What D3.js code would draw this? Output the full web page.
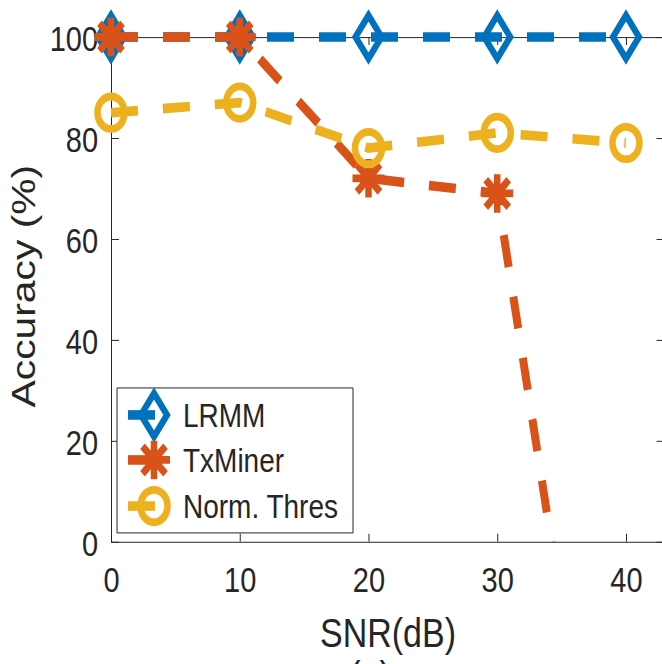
<!DOCTYPE html>
<html>
<head>
<meta charset="utf-8">
<script src="https://cdn.jsdelivr.net/npm/d3@7"></script>
<style>
  html, body { margin: 0; padding: 0; background: #fff; }
  svg { display: block; }
  text { font-family: "Liberation Sans", Arial, Helvetica, sans-serif; fill: #262626; }
</style>
</head>
<body>
<svg id="chart" width="662" height="664"></svg>
<script>
// SNR sweep and accuracy of each detector
const snr = [0, 10, 20, 30, 40];
const lrmm = [100, 100, 100, 100, 100];
const txMiner = [100, 100, 72, 69, -95];
const normThres = [85, 87, 78, 81, 79];

const xTicks = [0, 10, 20, 30, 40];
const yTicks = [0, 20, 40, 60, 80, 100];

const seriesNames = ["LRMM", "TxMiner", "Norm. Thres"];
const seriesColors = ["#0072BD", "#D95319", "#EDB120"];
const seriesMarkers = ["diamond", "asterisk", "circle"];

const xLabel = "SNR(dB)";
const yLabel = "Accuracy (%)";
const caption = "(a)";

const series = [lrmm, txMiner, normThres].map((vals, i) => ({
  name: seriesNames[i], color: seriesColors[i], marker: seriesMarkers[i], values: vals
}));

const W = 662, H = 664;
const SY = 1.2;               // the figure is drawn with a taller-than-wide aspect
const AX = "#262626";

const svg = d3.select("#chart");
const root = svg.append("g").attr("transform", `scale(1,${SY})`);

const x = d3.scaleLinear().domain([0, 43]).range([111, 664.6]);
const y = d3.scaleLinear().domain([0, 100]).range([451.4, 30.83]);

const tickV = 8 / SY;  // inward tick length on horizontal axes
const tickH = 8;       // inward tick length on vertical axes

function styleAxis(g) {
  g.attr("font-family", null).attr("font-size", null).attr("color", AX);
  g.selectAll("path, line")
    .attr("stroke", AX)
    .attr("stroke-width", 1)
    .attr("vector-effect", "non-scaling-stroke");
}

// bottom axis with labels
root.append("g")
  .attr("transform", `translate(0,${y(0)})`)
  .call(d3.axisBottom(x).tickValues(xTicks).tickSize(-tickV).tickSizeOuter(0))
  .call(styleAxis)
  .call(g => g.selectAll("text")
    .attr("y", 41.9).attr("dy", null)
    .style("font-size", "29px"));

// top edge of the box
root.append("g")
  .attr("transform", `translate(0,${y(100)})`)
  .call(d3.axisTop(x).tickValues(xTicks).tickSize(-tickV).tickSizeOuter(0).tickFormat(""))
  .call(styleAxis);

// left axis with labels
root.append("g")
  .attr("transform", `translate(${x(0)},0)`)
  .call(d3.axisLeft(y).tickValues(yTicks).tickSize(-tickH).tickSizeOuter(0).tickPadding(13))
  .call(styleAxis)
  .call(g => g.selectAll("text")
    .attr("dy", "0.39em")
    .style("font-size", "29px"));

// right edge of the box
root.append("g")
  .attr("transform", `translate(${x(43)},0)`)
  .call(d3.axisRight(y).tickValues(yTicks).tickSize(-tickH).tickSizeOuter(0).tickFormat(""))
  .call(styleAxis);

// clip lines to the plotting area (bottom edge at y = 0)
svg.append("defs").append("clipPath").attr("id", "plotClip")
  .append("rect")
  .attr("x", 0).attr("y", -60)
  .attr("width", W).attr("height", y(0) + 60);

const line = d3.line().x((d, i) => x(snr[i])).y(d => y(d));

function drawMarker(sel, type, color) {
  if (type === "diamond") {
    sel.append("path")
      .attr("d", "M0,-18L13,0L0,18L-13,0Z")
      .attr("fill", "none").attr("stroke", color)
      .attr("stroke-width", 6).attr("stroke-linejoin", "miter").attr("stroke-miterlimit", 10);
  } else if (type === "asterisk") {
    sel.append("path")
      .attr("d", "M0,-16V16M-16,0H16M-11.5,-11.5L11.5,11.5M-11.5,11.5L11.5,-11.5")
      .attr("fill", "none").attr("stroke", color)
      .attr("stroke-width", 6.5);
  } else {
    sel.append("circle")
      .attr("r", 13.5)
      .attr("fill", "none").attr("stroke", color)
      .attr("stroke-width", 6.5);
  }
}

const dash = "27 25";

series.forEach(s => {
  const g = root.append("g").attr("class", "series");
  g.append("path")
    .attr("clip-path", "url(#plotClip)")
    .attr("d", line(s.values))
    .attr("fill", "none")
    .attr("stroke", s.color)
    .attr("stroke-width", 8)
    .attr("stroke-dasharray", dash);
  s.values.forEach((v, i) => {
    if (v < 0) return;
    const m = g.append("g").attr("transform", `translate(${x(snr[i])},${y(v)})`);
    drawMarker(m, s.marker, s.color);
  });
});

// legend
const legend = root.append("g").attr("class", "legend");
legend.append("rect")
  .attr("x", 117).attr("y", 323.3)
  .attr("width", 236).attr("height", 120.8)
  .attr("fill", "#fff")
  .attr("stroke", AX).attr("stroke-width", 1)
  .attr("vector-effect", "non-scaling-stroke");

const rowY = [345.8, 383.3, 421.7];
series.forEach((s, i) => {
  const r = legend.append("g").attr("transform", `translate(0,${rowY[i]})`);
  r.append("line")
    .attr("x1", 128).attr("x2", 178).attr("y1", 0).attr("y2", 0)
    .attr("stroke", s.color).attr("stroke-width", 8)
    .attr("stroke-dasharray", dash);
  drawMarker(r.append("g").attr("transform", "translate(154,0)"), s.marker, s.color);
  r.append("text")
    .attr("x", 183).attr("y", 10)
    .style("font-size", "28px")
    .text(s.name);
});

// axis titles and caption
root.append("text")
  .attr("x", 388).attr("y", 538.9)
  .attr("text-anchor", "middle")
  .style("font-size", "34px")
  .text(xLabel);

root.append("text")
  .attr("transform", "translate(35,238.5) rotate(-90)")
  .attr("text-anchor", "middle")
  .style("font-size", "34px")
  .text(yLabel);

root.append("text")
  .attr("x", 370).attr("y", 575)
  .attr("text-anchor", "middle")
  .style("font-size", "34px")
  .text(caption);
</script>
</body>
</html>
